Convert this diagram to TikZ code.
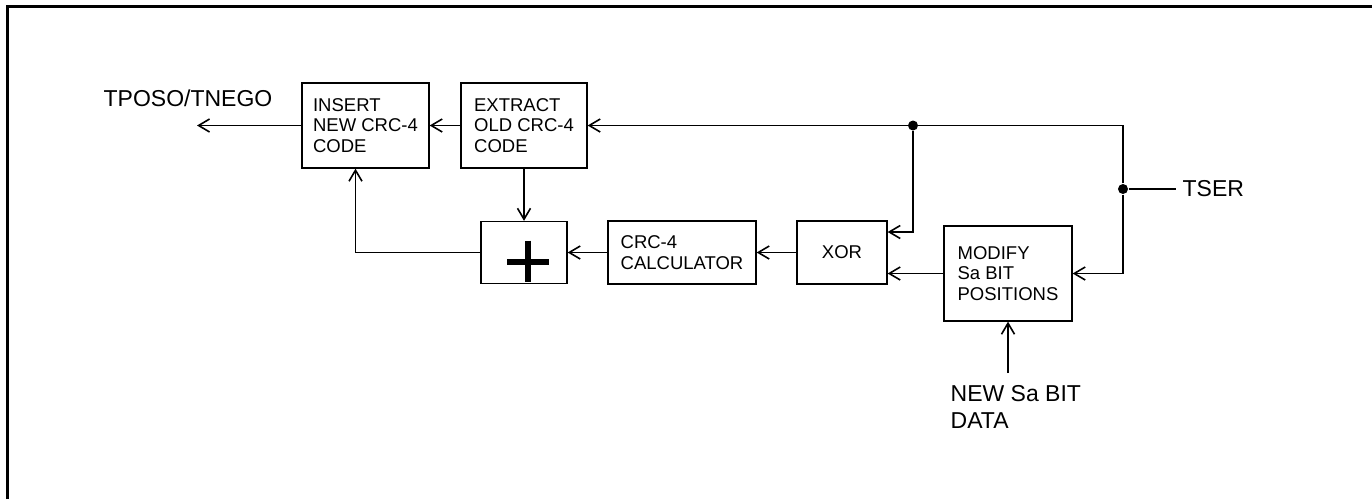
\documentclass[tikz,border=0pt]{standalone}
\usepackage{fontspec}
\setmainfont{Liberation Sans}
\usetikzlibrary{arrows.meta, calc, positioning}

\begin{document}
\begin{tikzpicture}[x=1pt, y=-1pt, line width=1.3pt,
    blk/.style={draw, align=left, inner sep=0pt, font=\fontsize{18.5}{20.5}\selectfont},
    lbl/.style={align=left, inner sep=0pt, font=\fontsize{23}{27}\selectfont},
    arr/.style={-{Straight Barb[length=11pt, width=13pt, line width=1.6pt]}},
    jdot/.style={circle, fill=black, inner sep=0pt, minimum size=10pt}]
        \useasboundingbox (0,0) rectangle (1372,499);

        % Frame
        \draw[line width=3pt] (7,499) -- (7,6) -- (1372,6);

        % Blocks
        \node[blk, minimum width=127, minimum height=85] (ins) at (365.5,125.5) {INSERT\\NEW CRC-4\\CODE};
        \node[blk, minimum width=126, minimum height=85] (ext) at (524,125.5) {EXTRACT\\OLD CRC-4\\CODE};
        \node[blk, minimum width=86, minimum height=62] (sum) at (524,252.5) {};
        \node[blk, minimum width=148, minimum height=63] (crc) at (682,252.5) {CRC-4\\CALCULATOR};
        \node[blk, minimum width=90, minimum height=63] (xor) at (842,252.5) {XOR};
        \node[blk, minimum width=128, minimum height=95] (mod) at (1008,273.5) {MODIFY\\Sa BIT\\POSITIONS};

        % Plus sign of the adder
        \draw[line width=6pt] ($(sum.center)+(-17,9)$) -- ($(sum.center)+(25,9)$)
                              ($(sum.center)+(4,-12)$) -- ($(sum.center)+(4,29)$);

        % Labels and junctions
        \node[lbl] (tposo) at (188,98) {TPOSO/TNEGO};
        \node[lbl, anchor=west, inner xsep=6pt] (tser) at (1176,189) {TSER};
        \node[lbl, anchor=west] (nsa) at (950,406.5) {NEW Sa BIT\\DATA};
        \node[jdot] (j1) at (913,125.5) {};
        \node[jdot] (j2) at (1123,189) {};
        \coordinate (tout) at (197,125.5);
        \coordinate (din) at (1008,373);

        % Paths
        \draw (j2) -- (tser.west);
        \draw[arr] (j2) |- (ext.east);
        \draw[arr] (j1) |- ($(xor.east)+(0,-20.5)$);
        \draw[arr] (j2) |- (mod.east);
        \draw[arr] (mod.west) -- (mod.west -| xor.east);
        \draw[arr] (xor) -- (crc);
        \draw[arr] (crc) -- (sum);
        \draw[arr] (ext) -- (sum);
        \draw[arr] (sum.west) -| ($(ins.south)+(-10,0)$);
        \draw[arr] (ext) -- (ins);
        \draw[arr] (ins.west) -- (tout);
        \draw[arr] (din) -- (mod.south);
\end{tikzpicture}
\end{document}
